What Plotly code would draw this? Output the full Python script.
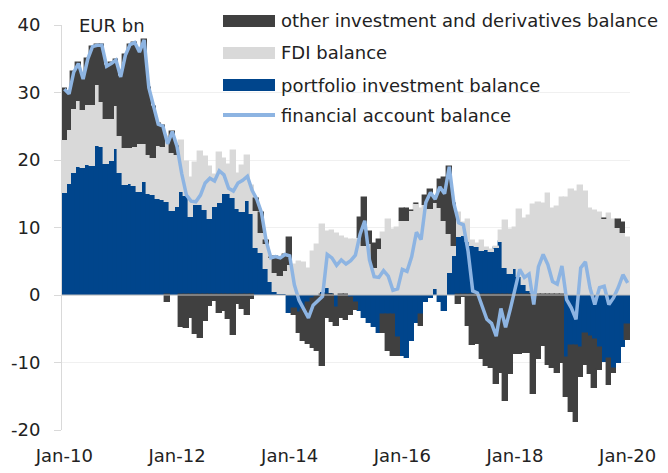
import pandas as pd
import plotly.graph_objects as go

# Monthly balances, EUR bn, Jan-2010 .. Jan-2020
months = pd.date_range("2010-01-01", periods=121, freq="MS").strftime("%b-%y").tolist()

portfolio = [
    15.1, 16.5, 18.1, 19.0, 18.8, 19.3, 19.1, 22.1, 21.9, 19.4,
    19.8, 21.7, 18.1, 16.3, 16.5, 16.2, 15.3, 16.7, 15.0, 14.8,
    14.2, 14.1, 13.8, 12.4, 13.0, 15.2, 14.7, 11.6, 13.3, 13.4,
    12.6, 11.3, 13.0, 13.6, 14.9, 14.9, 14.3, 12.7, 12.3, 13.9,
    12.0, 7.0, 6.2, 3.8, 2.0, 0.5, 0.2, 0.1, -2.6, -2.0,
    -2.6, -2.2, -1.2, -0.6, -0.3, 0.5, 1.0, 0.3, -1.9, 0.0,
    0.0, -0.5, -1.2, -2.4, -3.4, -4.1, -4.8, -5.6, -2.9, -2.9,
    -3.0, -6.3, -9.0, -9.3, -6.8, -4.2, -2.9, -1.0, -0.4, 0.9,
    -1.1, -2.4, 3.2, 5.8, 8.6, 8.7, 7.8, 7.2, 7.1, 6.5,
    6.6, 6.3, 7.0, 7.8, 4.0, 3.1, 3.9, 2.7, 1.5, 0.6,
    0.3, 0.0, 0.0, 0.0, 0.0, 0.0, 0.0, -9.3, -7.5, -7.6,
    -7.8, -5.8, -6.2, -6.6, -7.8, -9.9, -9.5, -11.0, -10.0, -7.7,
    -4.5,
]

fdi = [
    7.9, 8.0, 9.5, 9.7, 8.6, 8.9, 9.1, 9.0, 6.7, 6.7,
    6.3, 6.3, 5.5, 5.5, 5.3, 5.8, 7.1, 5.7, 5.8, 5.5,
    7.9, 7.9, 9.6, 8.6, 7.8, 7.6, 5.0, 5.7, 6.3, 7.8,
    7.9, 7.6, 4.8, 7.4, 5.3, 4.4, 7.0, 5.3, 6.8, 6.7,
    4.1, 5.4, 3.0, 3.7, 3.5, 2.8, 2.6, 3.5, 4.5, 4.5,
    4.9, 4.7, 3.8, 6.3, 7.4, 9.8, 8.4, 9.2, 9.0, 8.6,
    8.3, 8.1, 8.1, 8.4, 7.3, 7.5, 4.0, 6.8, 9.2, 11.1,
    9.7, 9.9, 11.0, 11.0, 12.5, 13.5, 12.8, 13.4, 12.7, 12.8,
    12.9, 11.0, 5.8, 1.5, 3.5, 2.0, 3.3, 0.8, 0.4, 1.5,
    0.3, 0.3, 0.1, 1.7, 6.9, 6.5, 6.0, 9.9, 9.7, 11.1,
    13.0, 13.7, 13.5, 14.9, 12.8, 13.1, 14.3, 14.4, 15.5, 15.2,
    16.1, 15.2, 12.7, 12.4, 12.2, 11.2, 12.0, 11.1, 9.9, 9.2,
    8.5,
]

other = [
    7.5, 5.3, 5.4, 5.6, 4.6, 6.8, 8.6, 5.9, 8.4, 7.8,
    8.2, 6.8, 8.7, 13.7, 15.3, 15.4, 13.6, 15.4, 9.9, 7.5,
    3.2, 3.0, -1.0, 3.2, 1.2, -4.8, -4.9, -3.4, -5.8, -6.4,
    -3.9, -1.6, -0.9, -2.6, -2.4, -3.5, -5.9, -1.4, -2.1, -3.0,
    -0.6, 1.8, 3.0, 0.5, 0.0, 2.4, 2.7, 2.4, 3.9, -1.0,
    -3.1, -4.6, -6.0, -7.2, -8.0, -10.5, -3.4, -4.0, -2.7, -3.4,
    -3.7, -2.5, -1.0, 3.0, 7.1, 1.8, 3.5, 1.4, -2.7, -5.4,
    -6.0, -2.7, 1.8, 1.8, 0.0, 0.0, -1.7, 1.3, 2.9, 0.5,
    4.2, 6.4, 10.0, 6.2, -1.4, -0.3, -4.6, -7.4, -7.2, -9.5,
    -10.5, -10.8, -13.2, -11.5, -15.7, -11.7, -8.8, -8.8, -8.6, -8.6,
    -14.7, -9.5, -7.5, -10.4, -10.8, -11.5, -10.0, -5.8, -9.9, -11.2,
    -4.3, -4.5, -5.5, -7.2, -3.3, 0.0, -3.9, -0.5, 1.2, 1.5,
    -2.2,
]

financial_account = [
    30.5, 29.8, 33.0, 34.3, 32.0, 35.0, 36.8, 37.0, 37.0, 33.9,
    34.3, 34.8, 32.3, 35.5, 37.1, 37.4, 36.0, 37.8, 30.7, 27.8,
    25.3, 25.0, 22.4, 24.2, 22.0, 18.0, 14.8, 13.9, 13.8, 14.8,
    16.6, 17.3, 16.9, 18.4, 17.8, 15.8, 15.4, 16.6, 17.0, 17.6,
    15.5, 14.2, 12.2, 8.0, 5.5, 5.7, 5.5, 6.0, 5.8, 1.5,
    -0.8, -2.1, -3.4, -1.5, -0.9, -0.2, 6.0, 5.5, 4.4, 5.2,
    4.6, 5.1, 5.9, 9.0, 11.0, 5.2, 2.7, 2.6, 3.6, 2.8,
    0.7, 0.9, 3.8, 3.5, 5.7, 9.3, 8.2, 13.7, 15.2, 14.2,
    16.0, 15.0, 19.0, 13.5, 10.7, 10.4, 6.5, 0.6, 0.3, -1.5,
    -3.6, -4.2, -6.1, -2.0, -4.8, -2.1, 1.1, 3.8, 2.6, 3.1,
    -1.4, 4.2, 6.0, 4.5, 2.0, 1.6, 4.3, -0.7, -1.9, -3.6,
    4.0, 4.9, 1.0, -1.4, 1.1, 1.3, -1.4, -0.4, 1.1, 3.0,
    1.8,
]

tick_labels = ["Jan-10", "Jan-12", "Jan-14", "Jan-16", "Jan-18", "Jan-20"]
y_ticks = [-20, -10, 0, 10, 20, 30, 40]
y_tick_text = ["-20", "-10", "0", "10", "20", "30", "40"]

series_names = [
    "other investment and derivatives balance",
    "FDI balance",
    "portfolio investment balance",
    "financial account balance",
]

C_PORT = "#00458c"
C_FDI = "#d9d9d9"
C_OTHER = "#404040"
C_LINE = "#8db4e2"
TEXT = "#222222"
FONT = "DejaVu Sans"

W, H = 668, 473
L, R, T, B = 62, 38, 25, 43
PW, PH = W - L - R, H - T - B


def px_x(px):
    return (px - L) / PW


def px_y(py):
    return (H - B - py) / PH


fig = go.Figure()
for vals, name, col in [
    (portfolio, series_names[2], C_PORT),
    (fdi, series_names[1], C_FDI),
    (other, series_names[0], C_OTHER),
]:
    fig.add_trace(go.Bar(
        x=months, y=vals, name=name,
        marker=dict(color=col, line=dict(color=col, width=1.4)),
        showlegend=False,
    ))

fig.add_trace(go.Scatter(
    x=months, y=financial_account, name=series_names[3], mode="lines",
    line=dict(color=C_LINE, width=3.5), showlegend=False,
))

shapes = [
    dict(type="line", xref="paper", yref="y", x0=0, x1=1, y0=0, y1=0,
         line=dict(color="#bfbfbf", width=1), layer="above"),
]
annotations = [
    dict(text="EUR bn", xref="paper", yref="paper", x=px_x(77), y=px_y(26),
         xanchor="left", yanchor="middle", showarrow=False,
         font=dict(family=FONT, size=18, color=TEXT)),
]

legend_rows = [
    (series_names[0], C_OTHER, 21, "box"),
    (series_names[1], C_FDI, 53, "box"),
    (series_names[2], C_PORT, 85, "box"),
    (series_names[3], C_LINE, 115, "line"),
]
for name, col, cy, kind in legend_rows:
    if kind == "box":
        shapes.append(dict(type="rect", xref="paper", yref="paper",
                           x0=px_x(223), x1=px_x(275), y0=px_y(cy + 6), y1=px_y(cy - 6),
                           fillcolor=col, line=dict(width=0), layer="above"))
    else:
        shapes.append(dict(type="line", xref="paper", yref="paper",
                           x0=px_x(223), x1=px_x(275), y0=px_y(cy), y1=px_y(cy),
                           line=dict(color=col, width=4), layer="above"))
    annotations.append(dict(text=name, xref="paper", yref="paper",
                            x=px_x(279), y=px_y(cy), xanchor="left", yanchor="middle",
                            showarrow=False, font=dict(family=FONT, size=18, color=TEXT)))

fig.update_layout(
    width=W, height=H,
    margin=dict(l=L, r=R, t=T, b=B, pad=0),
    paper_bgcolor="white", plot_bgcolor="white",
    barmode="relative", bargap=0,
    font=dict(family=FONT, size=18, color=TEXT),
    shapes=shapes, annotations=annotations,
    xaxis=dict(
        type="category", categoryorder="array", categoryarray=months,
        range=[-0.5, len(months) - 0.5], automargin=False,
        tickmode="array", tickvals=tick_labels, ticktext=tick_labels,
        showgrid=False, showline=False, zeroline=False, ticks="",
        ticklabelstandoff=13,
        tickfont=dict(family=FONT, size=18, color=TEXT),
    ),
    yaxis=dict(
        range=[-20, 40], tickmode="array", tickvals=y_ticks, ticktext=y_tick_text,
        automargin=False,
        showgrid=True, gridcolor="#f0f0f0", gridwidth=1,
        showline=True, linecolor="#d9d9d9", linewidth=1,
        ticks="outside", ticklen=7, tickcolor="#d9d9d9",
        zeroline=False, ticklabelstandoff=10,
        tickfont=dict(family=FONT, size=18, color=TEXT),
    ),
)

fig.write_html("out.html")
